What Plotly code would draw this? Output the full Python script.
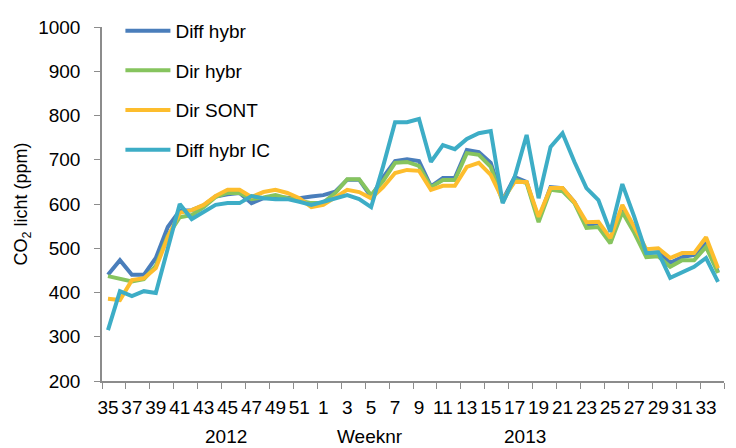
import plotly.graph_objects as go

# Week labels (2012: weeks 35-52, 2013: weeks 1-34)
weeks = [35, 36, 37, 38, 39, 40, 41, 42, 43, 44, 45, 46, 47, 48, 49, 50, 51, 52,
         1, 2, 3, 4, 5, 6, 7, 8, 9, 10, 11, 12, 13, 14, 15, 16, 17, 18, 19, 20,
         21, 22, 23, 24, 25, 26, 27, 28, 29, 30, 31, 32, 33, 34]

diff_hybr = [440, 473, 440, 440, 478, 548, 585, 586, 597, 617, 622, 625, 602, 613, 615, 615, 613, 617,
             620, 628, 655, 655, 616, 660, 697, 701, 697, 640, 659, 659, 722, 717, 693, 609, 661, 650,
             565, 638, 636, 604, 552, 557, 514, 591, 541, 489, 491, 467, 480, 485, 511, 446]
dir_hybr = [437, 432, 425, 430, 460, 528, 570, 575, 593, 616, 625, 625, 611, 615, 620, 613, 608, 602,
            603, 625, 656, 656, 620, 652, 693, 695, 686, 638, 654, 654, 715, 711, 684, 605, 655, 647,
            559, 632, 629, 602, 546, 548, 511, 582, 535, 480, 482, 458, 473, 473, 503, 444]
dir_sont = [386, 383, 428, 432, 455, 525, 580, 586, 598, 618, 632, 632, 616, 627, 632, 625, 613, 593,
            598, 616, 632, 627, 613, 638, 670, 677, 675, 632, 641, 641, 684, 693, 666, 610, 650, 650,
            571, 636, 636, 604, 559, 560, 523, 598, 546, 498, 500, 478, 489, 489, 525, 455]
diff_hybr_ic = [315, 403, 392, 403, 399, 500, 600, 566, 582, 598, 602, 602, 618, 613, 611, 611, 605, 598,
                605, 613, 620, 611, 593, 685, 785, 785, 792, 695, 733, 724, 747, 760, 765, 602, 661, 756,
                613, 729, 760, 695, 636, 609, 537, 645, 571, 489, 491, 433, 446, 458, 478, 424]

series_names = ["Diff hybr", "Dir hybr", "Dir SONT", "Diff hybr IC"]
series_colors = ["#4A7EBB", "#86C45E", "#FDBD2D", "#3DADC6"]
series_values = [diff_hybr, dir_hybr, dir_sont, diff_hybr_ic]

year_labels = ["2012", "2013"]
year_pos = [9.9, 34.9]

FONT = "Liberation Sans, Arial, Helvetica, sans-serif"

idx = list(range(len(weeks)))
fig = go.Figure()
for name, color, vals in zip(series_names, series_colors, series_values):
    fig.add_trace(go.Scatter(
        x=idx, y=vals, mode="lines", name=name, legendgroup=name,
        line=dict(color=color, width=4),
    ))

tickvals = [i for i in idx if i % 2 == 0]
ticktext = [str(weeks[i]) for i in tickvals]

axis_color = "#8C8C8C"
fig.update_layout(
    width=736, height=448,
    margin=dict(l=102, r=12, t=27, b=67),
    paper_bgcolor="white", plot_bgcolor="white",
    font=dict(family=FONT, size=19, color="black"),
    showlegend=True,
    legend=dict(
        x=0.0296, y=1.043, xanchor="left", yanchor="top",
        bgcolor="rgba(0,0,0,0)", font=dict(size=19, family=FONT),
        itemwidth=45, tracegroupgap=12, traceorder="grouped",
    ),
    xaxis=dict(
        range=[-0.5, len(weeks) - 0.5],
        tickmode="array", tickvals=tickvals, ticktext=ticktext, tickangle=0,
        ticks="outside", ticklen=8, tickcolor="rgba(0,0,0,0)",
        showline=True, linecolor=axis_color, linewidth=1.5,
        showgrid=False, zeroline=False,
        tickfont=dict(size=19),
        minor=dict(tick0=-0.5, dtick=2, ticks="outside", ticklen=6,
                   tickcolor=axis_color, tickwidth=1.3, showgrid=False),
    ),
    yaxis=dict(
        range=[200, 1000], dtick=100, tick0=200,
        ticks="outside", ticklen=6, tickcolor=axis_color, tickwidth=1.3,
        ticklabelstandoff=10,
        showline=True, linecolor=axis_color, linewidth=1.5,
        showgrid=False, zeroline=False,
        tickfont=dict(size=19),
        title=dict(text="CO<sub>2</sub> licht (ppm)", font=dict(size=18), standoff=6),
    ),
)

for lab, pos in zip(year_labels, year_pos):
    fig.add_annotation(x=pos, y=0, xref="x", yref="paper", text=lab, showarrow=False,
                       yanchor="middle", yshift=-55, font=dict(size=19))
fig.add_annotation(x=21.9, y=0, xref="x", yref="paper", text="Weeknr", showarrow=False,
                   yanchor="middle", yshift=-55, font=dict(size=19))

fig.write_html("out.html", config={"displayModeBar": False},
               post_script="document.body.style.margin='0';")
